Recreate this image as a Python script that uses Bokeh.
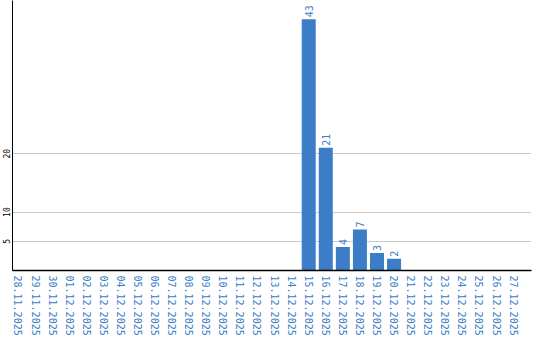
import math
from bokeh.plotting import figure
from bokeh.models import ColumnDataSource, Range1d, FixedTicker
from bokeh.core.properties import value
from bokeh.embed import file_html
from bokeh.resources import INLINE

dates = ["28.11.2025", "29.11.2025", "30.11.2025", "01.12.2025", "02.12.2025",
         "03.12.2025", "04.12.2025", "05.12.2025", "06.12.2025", "07.12.2025",
         "08.12.2025", "09.12.2025", "10.12.2025", "11.12.2025", "12.12.2025",
         "13.12.2025", "14.12.2025", "15.12.2025", "16.12.2025", "17.12.2025",
         "18.12.2025", "19.12.2025", "20.12.2025", "21.12.2025", "22.12.2025",
         "23.12.2025", "24.12.2025", "25.12.2025", "26.12.2025", "27.12.2025"]
counts = [0, 0, 0, 0, 0, 0, 0, 0, 0, 0,
          0, 0, 0, 0, 0, 0, 0, 43, 21, 4,
          7, 3, 2, 0, 0, 0, 0, 0, 0, 0]
y_ticks = [5, 10, 20]

BLUE = "#3b7dc6"
xs = list(range(len(dates)))

p = figure(width=540, height=340, output_backend="svg", toolbar_location=None,
           x_range=Range1d(-0.35, 30.05), y_range=Range1d(0, 46.2),
           min_border_left=11, min_border_right=9, min_border_top=0, min_border_bottom=70)
p.outline_line_color = None
p.background_fill_color = "white"

src = ColumnDataSource(dict(x=xs, y=counts, lbl=[str(c) if c else "" for c in counts]))
p.vbar(x="x", top="y", width=0.82, source=src, fill_color=BLUE, line_color=None)

p.text(x="x", y="y", text="lbl", source=src, angle=math.pi / 2,
       text_align="left", text_baseline="middle", y_offset=-2,
       text_color=BLUE, text_font=value("DejaVu Sans Mono"), text_font_size="10px")

p.xgrid.grid_line_color = None
p.ygrid.ticker = FixedTicker(ticks=y_ticks)
p.ygrid.grid_line_color = "#c8c8c8"

p.xaxis.ticker = FixedTicker(ticks=xs)
p.xaxis.major_label_overrides = {i: d for i, d in enumerate(dates)}
p.xaxis.major_label_orientation = "vertical"
p.xaxis.major_label_text_color = BLUE
p.xaxis.major_label_text_font = "DejaVu Sans Mono"
p.xaxis.major_label_text_font_size = "10px"
p.xaxis.major_tick_line_color = None
p.xaxis.minor_tick_line_color = None
p.xaxis.major_tick_out = 0
p.xaxis.major_tick_in = 0
p.xaxis.minor_tick_out = 0
p.xaxis.major_label_standoff = 5
p.xaxis.axis_line_color = "black"
p.xaxis.axis_line_width = 1.5

p.yaxis.ticker = FixedTicker(ticks=y_ticks)
p.yaxis.major_label_orientation = "vertical"
p.yaxis.major_label_text_color = "black"
p.yaxis.major_label_text_font = "DejaVu Sans Mono"
p.yaxis.major_label_text_font_size = "8px"
p.yaxis.major_tick_line_color = None
p.yaxis.minor_tick_line_color = None
p.yaxis.major_tick_out = 0
p.yaxis.major_tick_in = 0
p.yaxis.minor_tick_out = 0
p.yaxis.major_label_standoff = 2
p.yaxis.axis_line_color = "black"
p.yaxis.axis_line_width = 1

open("out.html", "w").write(file_html(p, INLINE))
